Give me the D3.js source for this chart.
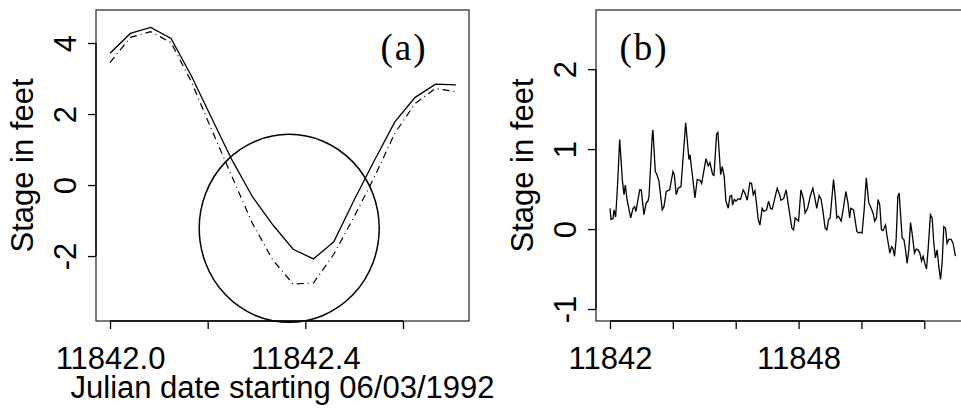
<!DOCTYPE html>
<html>
<head>
<meta charset="utf-8">
<script src="https://cdn.jsdelivr.net/npm/d3@7"></script>
<style>
  body { margin: 0; background: #fff; }
  svg { display: block; background: #fff; }
  text { font-family: "Liberation Sans", Arial, sans-serif; fill: #000; }
  .tag { font-family: "Liberation Serif", "Times New Roman", serif; letter-spacing: 2px; }
</style>
</head>
<body>
<svg width="961" height="412"></svg>
<script>
// Data here!

let startDay = 11842;

// panel (a) - hourly stage, solid and dot-dash series
let hoursA = [0, 1, 2, 3, 4, 5, 6, 7, 8, 9, 10, 11, 12, 13, 14, 15, 16, 17];
let solidA = [3.71, 4.27, 4.44, 4.13, 3.07, 1.88, 0.70, -0.33, -1.12, -1.81, -2.08, -1.60, -0.42, 0.70, 1.78, 2.47, 2.84, 2.82];
let dashA = [3.45, 4.16, 4.32, 4.01, 2.91, 1.55, 0.23, -1.08, -2.11, -2.79, -2.76, -1.95, -0.89, 0.23, 1.46, 2.30, 2.72, 2.63];
let xTicksA = [11842.0, 11842.2, 11842.4, 11842.6];
let xLabelsA = ['11842.0', '', '11842.4', ''];
let yTicksA = [-2, 0, 2, 4];
// the circled trough (centre in data units)
let circleA = [11842.367, -1.22];

// panel (b) - eleven days of stage, hours after the start day
let hoursB = [0, 0.8, 2.3, 3.1, 4.3, 5.3, 6.1, 7.4, 8.1, 9.4, 10.7, 11.7, 13.0, 15.8, 17.6, 18.8, 19.8, 22.7, 23.9,
  25.9, 27.7, 29.0, 29.8, 32.3, 32.8, 34.6, 35.9, 37.4, 39.9, 41.2, 43.0, 45.6, 48.1, 49.1, 50.6, 52.1, 54.2,
  57.8, 60.3, 61.1, 64.9, 66.6, 68.7, 70.0, 73.3, 75.0, 76.3, 78.4, 79.4, 81.4, 82.4, 84.5, 85.7, 87.2, 88.5,
  90.3, 91.6, 92.9, 93.6, 94.9, 96.2, 97.9, 99.7, 101.7, 103.0, 104.8, 106.8, 108.1, 109.4, 110.7, 112.0,
  113.2, 114.5, 116.2, 117.5, 119.6, 121.1, 122.6, 123.9, 125.9, 127.7, 129.5, 130.5, 132.6, 134.5, 136.4,
  138.9, 140.2, 141.4, 142.7, 144.0, 145.8, 147.8, 149.0, 150.9, 152.9, 154.9, 156.2, 157.9, 159.7, 161.2,
  162.5, 164.3, 165.6, 166.9, 168.1, 170.7, 171.9, 173.2, 174.5, 176.5, 178.4, 180.1, 181.7, 183.0, 183.9,
  186.0, 188.5, 189.8, 191.0, 192.5, 194.1, 195.7, 197.6, 199.4, 200.9, 202.2, 203.5, 204.7, 206.0, 207.3,
  208.5, 210.4, 211.6, 213.7, 215.0, 216.0, 217.3, 218.5, 219.8, 220.8, 223.1, 224.4, 225.7, 226.9, 228.2,
  229.5, 230.7, 232.5, 233.8, 235.3, 236.6, 237.9, 239.1, 240.4, 241.7, 242.9, 244.7, 246.0, 247.3, 248.5,
  249.8, 251.1, 252.4, 253.6, 254.9, 256.2, 257.4, 258.7, 260.5, 262.0, 263.8];
let stageB = [0.26, 0.12, 0.13, 0.24, 0.15, 0.41, 0.66, 1.12, 0.95, 0.62, 0.43, 0.55, 0.37, 0.14, 0.26, 0.28, 0.22, 0.49, 0.49,
  0.18, 0.33, 0.35, 0.41, 1.18, 1.24, 0.72, 0.68, 0.60, 0.24, 0.28, 0.47, 0.49, 0.72, 0.68, 0.43, 0.51, 0.53,
  1.33, 0.87, 0.93, 0.39, 0.62, 0.61, 0.57, 0.88, 0.79, 0.83, 0.68, 0.67, 1.19, 1.21, 0.68, 0.78, 0.66, 0.35,
  0.26, 0.41, 0.42, 0.30, 0.37, 0.35, 0.38, 0.37, 0.49, 0.45, 0.36, 0.58, 0.57, 0.43, 0.48, 0.30,
  0.12, 0.05, 0.26, 0.22, 0.24, 0.35, 0.26, 0.25, 0.39, 0.51, 0.43, 0.36, 0.38, 0.49, 0.28,
  0.01, -0.01, 0.14, 0.12, 0.10, 0.49, 0.37, 0.20, 0.26, 0.41, 0.51, 0.41, 0.26, 0.42, 0.37,
  0.24, 0.01, -0.01, 0.12, 0.14, 0.62, 0.43, 0.14, 0.16, 0.10, 0.28, 0.47, 0.33, 0.14, 0.26,
  0.24, -0.03, -0.05, -0.04, -0.05, 0.24, 0.64, 0.33, 0.26, 0.20, 0.10, 0.14, 0.37, 0.30, -0.01,
  -0.02, 0.05, -0.09, -0.30, -0.22, -0.24, -0.34, -0.13, 0.41, 0.45, -0.11, -0.13, -0.26, -0.43, -0.26,
  0.08, -0.05, -0.30, -0.25, -0.26, -0.30, -0.40, -0.34, -0.43, -0.50, -0.26, 0.18, 0.14, -0.18, -0.36,
  -0.26, -0.47, -0.63, -0.43, 0.03, 0.01, -0.18, -0.13, -0.13, -0.18, -0.34];
let xTicksB = [11842, 11844, 11846, 11848, 11850, 11852];
let xLabelsB = ['11842', '', '', '11848', '', ''];
let yTicksB = [-1, 0, 1, 2];

let svg = d3.select('svg');
let fontSize = 31;

// builds one framed panel and returns its scales
function panel(opt) {
  let x = d3.scaleLinear().domain(opt.xDomain).range([opt.left, opt.right]);
  let y = d3.scaleLinear().domain(opt.yDomain).range([opt.bottom, opt.top]);

  // frame
  svg.append('rect')
    .attr('x', opt.left)
    .attr('y', opt.top)
    .attr('width', opt.right - opt.left)
    .attr('height', opt.bottom - opt.top)
    .attr('fill', 'none')
    .attr('stroke', '#333')
    .attr('stroke-width', 1.3);

  // bottom axis, labels only where R kept them
  let gx = svg.append('g')
    .attr('transform', 'translate(0,' + opt.bottom + ')')
    .call(d3.axisBottom(x)
      .tickValues(opt.xTicks)
      .tickSize(8)
      .tickFormat((d, i) => opt.xLabels[i]));
  gx.select('.domain').remove();
  gx.selectAll('line').attr('stroke', '#000').attr('stroke-width', 1.3);
  gx.selectAll('text')
    .attr('y', 48)
    .attr('dy', null)
    .style('font-size', fontSize + 'px')
    .style('font-family', '"Liberation Sans", Arial, sans-serif');
  gx.append('line')
    .attr('x1', x(opt.xTicks[0]))
    .attr('x2', x(opt.xTicks[opt.xTicks.length - 1]))
    .attr('stroke', '#000')
    .attr('stroke-width', 1.3);

  // left axis, rotated labels
  let gy = svg.append('g')
    .attr('transform', 'translate(' + opt.left + ',0)')
    .call(d3.axisLeft(y)
      .tickValues(opt.yTicks)
      .tickSize(8)
      .tickFormat(d => String(d)));
  gy.select('.domain').remove();
  gy.selectAll('line').attr('stroke', '#000').attr('stroke-width', 1.3);
  gy.selectAll('text')
    .attr('x', null)
    .attr('dy', null)
    .attr('text-anchor', 'middle')
    .attr('transform', 'translate(-20,0) rotate(-90)')
    .style('font-size', fontSize + 'px')
    .style('font-family', '"Liberation Sans", Arial, sans-serif');
  gy.append('line')
    .attr('y1', y(opt.yTicks[0]))
    .attr('y2', y(opt.yTicks[opt.yTicks.length - 1]))
    .attr('stroke', '#000')
    .attr('stroke-width', 1.3);

  // y title
  svg.append('text')
    .attr('transform', 'translate(' + (opt.left - 63) + ',' + ((opt.top + opt.bottom) / 2) + ') rotate(-90)')
    .attr('text-anchor', 'middle')
    .style('font-size', fontSize + 'px')
    .text('Stage in feet');

  return { x: x, y: y };
}

// panel (a)
let a = panel({
  left: 96, right: 469, top: 10, bottom: 321,
  xDomain: [11841.9713, 11842.7352], yDomain: [-3.83, 4.93],
  xTicks: xTicksA, xLabels: xLabelsA, yTicks: yTicksA
});

let lineA = d3.line()
  .x(d => a.x(startDay + d[0] / 24))
  .y(d => a.y(d[1]));

svg.append('path')
  .datum(d3.zip(hoursA, solidA))
  .attr('d', lineA)
  .attr('fill', 'none')
  .attr('stroke', '#000')
  .attr('stroke-width', 1.3);

svg.append('path')
  .datum(d3.zip(hoursA, dashA))
  .attr('d', lineA)
  .attr('fill', 'none')
  .attr('stroke', '#000')
  .attr('stroke-width', 1.2)
  .attr('stroke-dasharray', '7,4,1,4');

svg.append('ellipse')
  .attr('cx', a.x(circleA[0]))
  .attr('cy', a.y(circleA[1]))
  .attr('rx', 90)
  .attr('ry', 94)
  .attr('fill', 'none')
  .attr('stroke', '#000')
  .attr('stroke-width', 1.5);

svg.append('text')
  .attr('class', 'tag')
  .attr('x', 404)
  .attr('y', 60)
  .attr('text-anchor', 'middle')
  .style('font-size', '37px')
  .text('(a)');

svg.append('text')
  .attr('x', (96 + 469) / 2)
  .attr('y', 398)
  .attr('text-anchor', 'middle')
  .style('font-size', fontSize + 'px')
  .text('Julian date starting 06/03/1992');

// panel (b)
let b = panel({
  left: 596, right: 962, top: 10, bottom: 321,
  xDomain: [11841.555, 11853.2], yDomain: [-1.15, 2.74],
  xTicks: xTicksB, xLabels: xLabelsB, yTicks: yTicksB
});

let lineB = d3.line()
  .x(d => b.x(startDay + d[0] / 24))
  .y(d => b.y(d[1]));

svg.append('path')
  .datum(d3.zip(hoursB, stageB))
  .attr('d', lineB)
  .attr('fill', 'none')
  .attr('stroke', '#000')
  .attr('stroke-width', 1.3);

svg.append('text')
  .attr('class', 'tag')
  .attr('x', 644)
  .attr('y', 60)
  .attr('text-anchor', 'middle')
  .style('font-size', '37px')
  .text('(b)');
</script>
</body>
</html>
